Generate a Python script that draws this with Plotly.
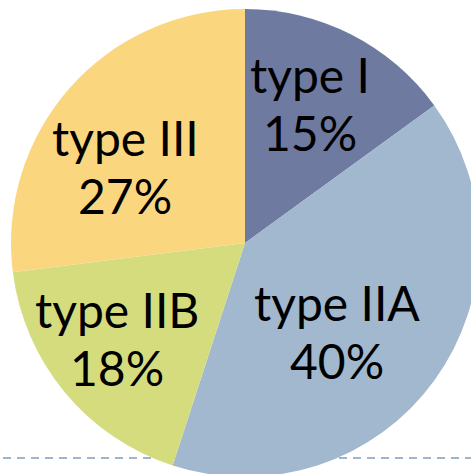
import math
import plotly.graph_objects as go

# ---- data ----
categories = ["type I", "type IIA", "type IIB", "type III"]
shares = [15, 40, 18, 27]
colors = ["#6F7AA1", "#A2B8CF", "#D5DC7E", "#FAD77E"]

# ---- geometry / style ----
W, H = 480, 480
PIE_CX, PIE_CY, PIE_R = 245, 243, 234      # pixels from top-left
LABEL_FRAC = 0.62
LABEL_NUDGE = [(-1, -10), (-25, 3), (-16, 3), (-11, 19)]  # px tweaks of label placement
LINE_GAP = 58
FONT = "Lato, 'Open Sans', sans-serif"
FONT_SIZE = 48

dom_x = [(PIE_CX - PIE_R) / W, (PIE_CX + PIE_R) / W]
dom_y = [1 - (PIE_CY + PIE_R) / H, 1 - (PIE_CY - PIE_R) / H]

fig = go.Figure(go.Pie(
    labels=categories,
    values=shares,
    marker=dict(colors=colors, line=dict(width=0)),
    sort=False,
    direction="clockwise",
    rotation=0,
    textinfo="none",
    hoverinfo="label+percent",
    showlegend=False,
    domain=dict(x=dom_x, y=dom_y),
))

# labels at mid-angle of each slice, derived from data
total = sum(shares)
cum = 0
annotations = []
for cat, v, (nx, ny) in zip(categories, shares, LABEL_NUDGE):
    mid = (cum + v / 2) / total * 2 * math.pi
    cum += v
    px = PIE_CX + LABEL_FRAC * PIE_R * math.sin(mid) + nx
    py = PIE_CY - LABEL_FRAC * PIE_R * math.cos(mid) + ny
    pct = round(v / total * 100)
    for txt, dy in ((cat, -LINE_GAP / 2), (f"{pct}%", LINE_GAP / 2)):
        annotations.append(dict(
            x=px / W, y=1 - (py + dy) / H, xref="paper", yref="paper",
            text=txt, showarrow=False,
            font=dict(family=FONT, size=FONT_SIZE, color="black"),
            xanchor="center", yanchor="middle", align="center",
        ))

fig.update_layout(
    width=W, height=H,
    margin=dict(l=0, r=0, t=0, b=0),
    paper_bgcolor="white", plot_bgcolor="white",
    annotations=annotations,
    shapes=[dict(
        type="line", xref="paper", yref="paper",
        x0=3 / W, x1=1, y0=1 - 458 / H, y1=1 - 458 / H,
        line=dict(color="#9FB5CA", width=2, dash="8px,6px"),
        layer="below",
    )],
)

fig.write_html(
    "out.html",
    config={"displayModeBar": False},
    post_script="document.body.style.margin='0';document.body.style.overflow='hidden';",
)
